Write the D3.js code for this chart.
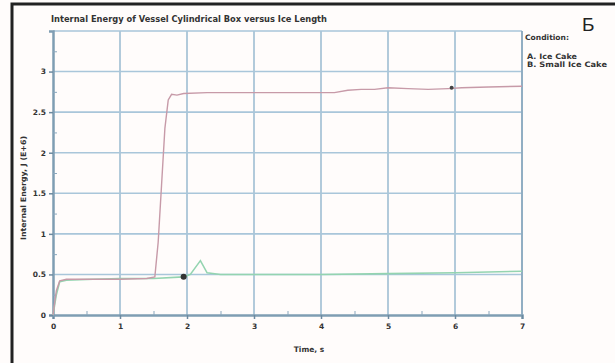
<!DOCTYPE html>
<html><head><meta charset="utf-8">
<script src="https://cdn.jsdelivr.net/npm/d3@7"></script>
<style>body{margin:0;background:#fff}svg{display:block}</style>
</head><body>
<svg id="c" width="615" height="363"></svg>
<script>
const xTicks = [0,1,2,3,4,5,6,7];
const yTicks = [0,0.5,1,1.5,2,2.5,3];
const yTickLabels = ["0","0.5","1","1.5","2","2.5","3"];
const seriesA = [[0,0],[0.05,0.3],[0.1,0.42],[0.2,0.44],[0.6,0.44],[1.0,0.44],[1.4,0.45],[1.52,0.47],[1.57,0.9],[1.62,1.6],[1.67,2.3],[1.72,2.65],[1.77,2.72],[1.85,2.71],[1.95,2.73],[2.3,2.74],[2.8,2.74],[3.3,2.74],[3.8,2.74],[4.2,2.74],[4.4,2.77],[4.6,2.78],[4.8,2.78],[5.0,2.8],[5.3,2.79],[5.6,2.78],[5.9,2.79],[6.1,2.8],[6.5,2.81],[7.0,2.82]];
const seriesB = [[0,0],[0.05,0.25],[0.1,0.41],[0.2,0.43],[0.6,0.44],[1.0,0.45],[1.5,0.45],[1.95,0.47],[2.05,0.5],[2.2,0.67],[2.3,0.52],[2.5,0.5],[3.0,0.5],[4.0,0.5],[5.0,0.51],[6.0,0.52],[7.0,0.54]];
const labelA = {x:5.95, y:2.8, t:"A"};
const labelB = {x:1.95, y:0.47, t:"B"};
const legend = ["Condition:","A. Ice Cake","B. Small Ice Cake"];

const svg = d3.select("#c");
svg.append("rect").attr("width",615).attr("height",363).attr("fill","#fffcfb");
svg.append("path").attr("d","M12,363 V4 H615").attr("fill","none").attr("stroke","#222").attr("stroke-width",3);

const x = d3.scaleLinear().domain([0,7]).range([53,522]);
const y = d3.scaleLinear().domain([0,3.5]).range([315,31]);
const font = "'DejaVu Sans', Verdana, sans-serif";

const g = svg.append("g");
g.selectAll(".vg").data(xTicks.slice(1)).join("line")
  .attr("x1",d=>x(d)).attr("x2",d=>x(d)).attr("y1",y(3.5)).attr("y2",y(0))
  .attr("stroke","#9fbdd3").attr("stroke-width",1.6);
g.selectAll(".hg").data(yTicks.slice(1).concat([3.5])).join("line")
  .attr("x1",x(0)).attr("x2",x(7)).attr("y1",d=>y(d)).attr("y2",d=>y(d))
  .attr("stroke","#a9c6da").attr("stroke-width",1.6);

const xAxis = d3.axisBottom(x).tickValues(xTicks).tickSize(4).tickFormat(d3.format("d"));
const gx = svg.append("g").attr("transform",`translate(0,${y(0)})`).call(xAxis);
gx.select(".domain").attr("stroke","#7f9db3").attr("stroke-width",2.5);
gx.selectAll(".tick line").attr("stroke","#6c8aa0").attr("stroke-width",1.5);
gx.selectAll("text").attr("font-family",font).attr("font-size",7.5).attr("font-weight","bold").attr("fill","#333").attr("dy","0.9em");

const xMinor = d3.axisTop(x).tickValues(d3.range(0.5,7,1)).tickSize(4).tickFormat("");
const gxm = svg.append("g").attr("transform",`translate(0,${y(0)})`).call(xMinor);
gxm.select(".domain").remove();
gxm.selectAll(".tick line").attr("stroke","#8aa7bd").attr("stroke-width",1);

const yAxis = d3.axisLeft(y).tickValues(yTicks).tickSize(4).tickFormat((d,i)=>yTickLabels[i]);
const gy = svg.append("g").attr("transform",`translate(${x(0)},0)`).call(yAxis);
gy.select(".domain").attr("stroke","#7f9db3").attr("stroke-width",2.5);
gy.selectAll(".tick line").attr("stroke","#6c8aa0").attr("stroke-width",1.5);
gy.selectAll("text").attr("font-family",font).attr("font-size",7.5).attr("font-weight","bold").attr("fill","#333");

const yMinor = d3.axisRight(y).tickValues(d3.range(0.25,3.5,0.5)).tickSize(4).tickFormat("");
const gym = svg.append("g").attr("transform",`translate(${x(0)},0)`).call(yMinor);
gym.select(".domain").remove();
gym.selectAll(".tick line").attr("stroke","#8aa7bd").attr("stroke-width",1);

svg.append("line").attr("x1",x(7)).attr("x2",x(7)).attr("y1",y(3.5)).attr("y2",y(0)).attr("stroke","#8aa7bd").attr("stroke-width",1.6);

const line = d3.line().x(d=>x(d[0])).y(d=>y(d[1]));
svg.append("path").datum(seriesB).attr("d",line).attr("fill","none").attr("stroke","#94d4b0").attr("stroke-width",1.6);
svg.append("path").datum(seriesA).attr("d",line).attr("fill","none").attr("stroke","#c79aa8").attr("stroke-width",1.4);

svg.append("circle").attr("cx",x(labelB.x)).attr("cy",y(labelB.y)).attr("r",3).attr("fill","#333");
svg.append("circle").attr("cx",x(labelA.x)).attr("cy",y(labelA.y)).attr("r",2).attr("fill","#444");

svg.append("text").attr("x",51).attr("y",22).attr("font-family",font).attr("font-size",8.2).attr("font-weight","bold").attr("fill","#333")
  .attr("textLength",276).attr("lengthAdjust","spacingAndGlyphs")
  .text("Internal Energy of Vessel Cylindrical Box versus Ice Length");
svg.append("text").attr("x",582).attr("y",31).attr("font-family","Arial, 'Liberation Sans', sans-serif").attr("font-size",19).attr("fill","#222").text("Б");
svg.append("text").attr("x",525).attr("y",40).attr("font-family",font).attr("font-size",7.5).attr("font-weight","bold").attr("fill","#333")
  .attr("textLength",44).attr("lengthAdjust","spacingAndGlyphs").text(legend[0]);
svg.append("text").attr("x",527).attr("y",59).attr("font-family",font).attr("font-size",7.5).attr("font-weight","bold").attr("fill","#333")
  .attr("textLength",50).attr("lengthAdjust","spacingAndGlyphs").text(legend[1]);
svg.append("text").attr("x",527).attr("y",67).attr("font-family",font).attr("font-size",7.5).attr("font-weight","bold").attr("fill","#333")
  .attr("textLength",80).attr("lengthAdjust","spacingAndGlyphs").text(legend[2]);
svg.append("text").attr("x",309).attr("y",352).attr("text-anchor","middle").attr("font-family",font).attr("font-size",7.5).attr("font-weight","bold").attr("fill","#333").text("Time, s");
svg.append("text").attr("transform","translate(26,188) rotate(-90)").attr("text-anchor","middle").attr("font-family",font).attr("font-size",7.5).attr("font-weight","bold").attr("fill","#333")
  .attr("textLength",104).attr("lengthAdjust","spacingAndGlyphs").text("Internal Energy, J (E+6)");
</script>
</body></html>
